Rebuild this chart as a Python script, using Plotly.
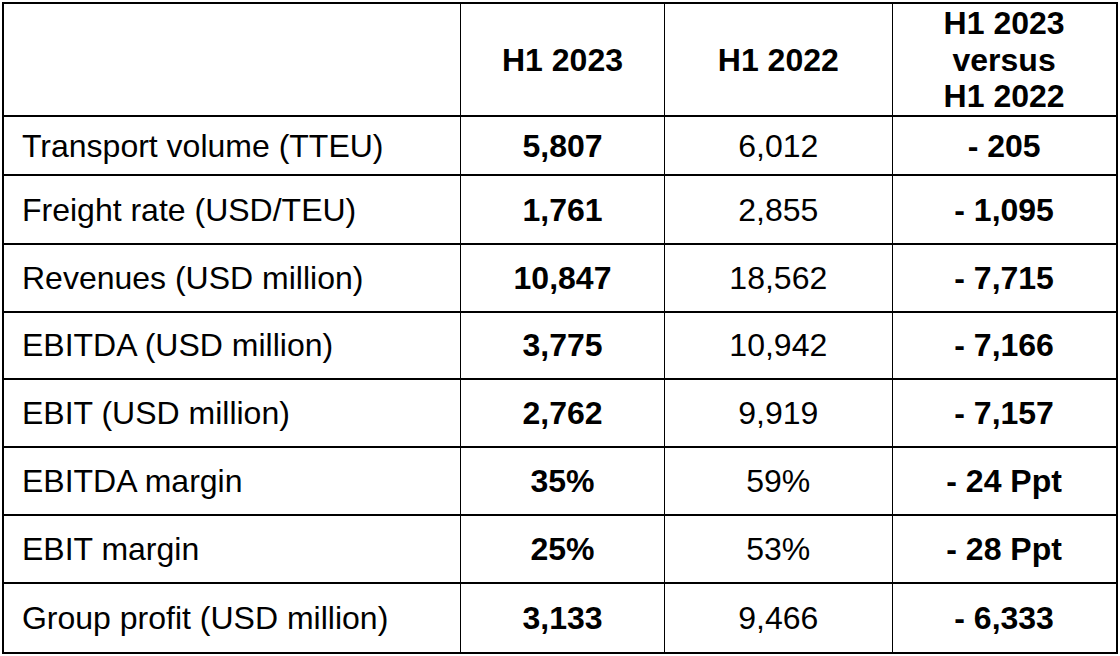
import plotly.graph_objects as go

# ---------------------------------------------------------------------------
# Data
# ---------------------------------------------------------------------------

header_labels = ["H1 2023", "H1 2022", "H1 2023<br>versus<br>H1 2022"]

metrics = [
    "Transport volume (TTEU)",
    "Freight rate (USD/TEU)",
    "Revenues (USD million)",
    "EBITDA (USD million)",
    "EBIT (USD million)",
    "EBITDA margin",
    "EBIT margin",
    "Group profit (USD million)",
]
h1_2023 = ["5,807", "1,761", "10,847", "3,775", "2,762", "35%", "25%", "3,133"]
h1_2022 = ["6,012", "2,855", "18,562", "10,942", "9,919", "59%", "53%", "9,466"]
change = ["- 205", "- 1,095", "- 7,715", "- 7,166", "- 7,157", "- 24 Ppt", "- 28 Ppt", "- 6,333"]

# ---------------------------------------------------------------------------
# Table geometry (pixel units on the axes)
# ---------------------------------------------------------------------------

W, H = 1120, 656
TABLE_LEFT, TABLE_TOP = 3.5, 2
COL_WIDTHS = [457, 204, 228, 224]
ROW_HEIGHTS = [112, 60, 69, 68, 67, 68, 69, 68, 69]
LABEL_PAD = 18
LINE_GAP = 36.5   # spacing of wrapped header lines
TEXT_DY = 3       # nudge so glyphs sit optically centred
FONT = "Liberation Sans, Arial, sans-serif"
FONT_SIZE = 32


def edges(start, sizes):
    out = [start]
    for s in sizes:
        out.append(out[-1] + s)
    return out


col_edges = edges(TABLE_LEFT, COL_WIDTHS)
row_edges = edges(TABLE_TOP, ROW_HEIGHTS)
col_mid = [(a + b) / 2 for a, b in zip(col_edges[:-1], col_edges[1:])]
row_mid = [(a + b) / 2 + TEXT_DY for a, b in zip(row_edges[:-1], row_edges[1:])]
body_mid = row_mid[1:]


def bold(values):
    return [f"<b>{v}</b>" for v in values]


def text_trace(x, y, text, position="middle center"):
    return go.Scatter(
        x=x,
        y=y,
        text=text,
        mode="text",
        textposition=position,
        textfont=dict(family=FONT, size=FONT_SIZE, color="black"),
        hoverinfo="skip",
        showlegend=False,
    )


fig = go.Figure()

# header row (wrapped labels split into lines around the row centre)
hx, hy, ht = [], [], []
for x, label in zip(col_mid[1:], header_labels):
    lines = label.split("<br>")
    for i, line in enumerate(lines):
        hx.append(x)
        hy.append(row_mid[0] + (i - (len(lines) - 1) / 2) * LINE_GAP)
        ht.append(line)
fig.add_trace(text_trace(hx, hy, bold(ht)))

# first column: metric names, left aligned
fig.add_trace(
    text_trace([col_edges[0] + LABEL_PAD] * len(metrics), body_mid, metrics, "middle right")
)

# value columns
fig.add_trace(text_trace([col_mid[1]] * len(h1_2023), body_mid, bold(h1_2023)))
fig.add_trace(text_trace([col_mid[2]] * len(h1_2022), body_mid, h1_2022))
fig.add_trace(text_trace([col_mid[3]] * len(change), body_mid, bold(change)))

_AXIS = dict(
    showticklabels=False,
    ticks="",
    zeroline=False,
    showline=True,
    mirror=True,
    linecolor="black",
    linewidth=2,
    fixedrange=True,
    tickmode="array",
    gridcolor="black",
)

fig.update_layout(
    width=W,
    height=H,
    margin=dict(
        l=col_edges[0],
        r=W - col_edges[-1],
        t=row_edges[0],
        b=H - row_edges[-1],
        pad=0,
    ),
    paper_bgcolor="white",
    plot_bgcolor="white",
    xaxis=dict(range=[col_edges[0], col_edges[-1]], tickvals=col_edges[1:-1], gridwidth=1.4, **_AXIS),
    yaxis=dict(range=[row_edges[-1], row_edges[0]], tickvals=row_edges[1:-1], gridwidth=1.8, **_AXIS),
)

fig.write_html(
    "out.html",
    config={"displayModeBar": False},
    post_script="document.body.style.margin='0';document.body.style.overflow='hidden';",
)
